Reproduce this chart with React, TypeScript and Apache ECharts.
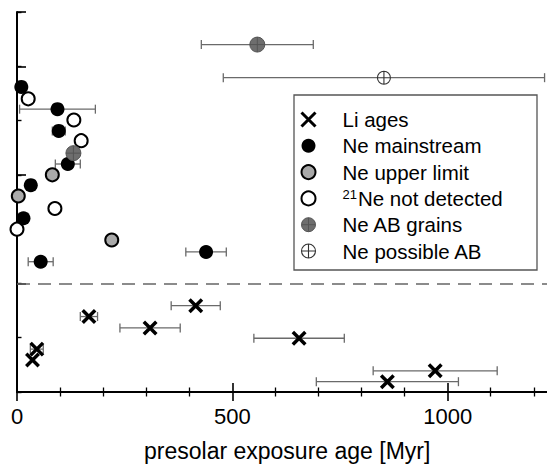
import React, { useEffect, useRef } from "react";
import * as echarts from "echarts";

// ---- data ----
const liX = [167, 309, 415, 46, 36, 655, 971, 860];
const liY = [1.39, 1.18, 1.59, 0.79, 0.59, 0.99, 0.39, 0.19];
const liErr = [20, 70, 57, 15, 0, 105, 144, 165];

const neMainX = [10, 94, 97, 118, 32, 15, 55, 439];
const neMainY = [5.62, 5.21, 4.81, 4.2, 3.81, 3.2, 2.4, 2.58];
const neMainErr = [0, 88, 15, 29, 0, 0, 29, 47];

const neUpperX = [82, 3, 220];
const neUpperY = [4.0, 3.61, 2.8];

const neNotDetX = [26, 132, 149, 88, 0];
const neNotDetY = [5.4, 5.01, 4.63, 3.38, 3.0];

const neABX = [131, 558];
const neABY = [4.4, 6.4];
const neABErr = [0, 130];

const nePossX = [852];
const nePossY = [5.79];
const nePossErr = [373];

const xTickValues = [0, 500, 1000];
const dividerY = 2;

const names = [
  "Li ages",
  "Ne mainstream",
  "Ne upper limit",
  "21Ne not detected",
  "Ne AB grains",
  "Ne possible AB",
];

const FONT = "'Liberation Sans', Arial, Helvetica, sans-serif";
const X_PATH = "path://M0,0L10,10M10,0L0,10";
const CROSS_CIRCLE =
  "path://M0,10A10,10,0,1,1,20,10A10,10,0,1,1,0,10ZM10,0L10,20M0,10L20,10";

const zip = (xs: number[], ys: number[]) => xs.map((x, i) => [x, ys[i]]);
const zip3 = (xs: number[], ys: number[], es: number[]) =>
  xs.map((x, i) => [x, ys[i], es[i]]);

export default function App() {
  const ref = useRef<HTMLDivElement>(null);
  useEffect(() => {
    document.body.style.margin = "0";
    const chart = echarts.init(ref.current!, null, { renderer: "svg" });
    const errData = [
      ...zip3(liX, liY, liErr),
      ...zip3(neMainX, neMainY, neMainErr),
      ...zip3(neABX, neABY, neABErr),
      ...zip3(nePossX, nePossY, nePossErr),
    ];
    const axisLine = { show: true, lineStyle: { color: "#000", width: 2 } };
    const option: any = {
      animation: false,
      grid: {
        left: 17,
        top: 12,
        bottom: 72,
        width: 646,
        containLabel: false,
        outerBoundsMode: "none",
      },
      title: {
        text: "presolar exposure age [Myr]",
        left: 144,
        top: 439,
        padding: 0,
        textStyle: { fontFamily: FONT, fontSize: 23, fontWeight: "normal", color: "#000" },
      },
      xAxis: [
        {
          type: "value",
          position: "bottom",
          min: 0,
          max: 1500,
          interval: 500,
          axisLine,
          axisTick: { show: true, inside: true, length: 9, lineStyle: { color: "#000", width: 1.6 } },
          minorTick: { show: true, splitNumber: 5, length: 4.5, lineStyle: { color: "#000", width: 1.3 } },
          axisLabel: {
            show: true,
            margin: 13,
            fontFamily: FONT,
            fontSize: 22,
            color: "#000",
            formatter: (v: number) => (xTickValues.includes(v) ? String(v) : ""),
          },
          splitLine: { show: false },
        },
        {
          type: "value",
          position: "top",
          min: 0,
          max: 1500,
          interval: 500,
          axisLine,
          axisTick: { show: true, inside: true, length: 9, lineStyle: { color: "#000", width: 1.6 } },
          minorTick: { show: true, splitNumber: 5, length: 4.5, lineStyle: { color: "#000", width: 1.3 } },
          axisLabel: { show: false },
          splitLine: { show: false },
        },
      ],
      yAxis: [
        {
          type: "value",
          position: "left",
          min: 0,
          max: 7,
          interval: 1,
          axisLine,
          axisTick: { show: true, inside: true, length: 4.5, lineStyle: { color: "#000", width: 1.4 } },
          axisLabel: { show: false },
          splitLine: { show: false },
        },
        {
          type: "value",
          position: "left",
          min: 0,
          max: 7,
          interval: 2,
          axisLine: { show: false },
          axisTick: { show: true, inside: true, length: 9, lineStyle: { color: "#000", width: 1.6 } },
          axisLabel: { show: false },
          splitLine: { show: false },
        },
      ],
      legend: {
        data: [
          { name: names[0], itemStyle: { color: "rgba(0,0,0,0)", borderColor: "#000", borderWidth: 3 } },
          { name: names[1], itemStyle: { color: "#000", borderWidth: 0 } },
          { name: names[2], itemStyle: { color: "#a8a8a8", borderColor: "#000", borderWidth: 2 } },
          { name: names[3], itemStyle: { color: "#fff", borderColor: "#000", borderWidth: 2 } },
          { name: names[4], itemStyle: { color: "#6e6e6e", borderColor: "#555", borderWidth: 1 } },
          { name: names[5], itemStyle: { color: "#fff", borderColor: "#333", borderWidth: 1.1 } },
        ],
        orient: "vertical",
        left: 300,
        top: 109,
        padding: 0,
        itemWidth: 58,
        itemHeight: 14,
        itemGap: 5.3,
        symbolKeepAspect: true,
        selectedMode: false,
        formatter: (n: string) =>
          n === "21Ne not detected" ? "{sup|21}{t|Ne not detected}" : "{t|" + n + "}",
        textStyle: {
          fontFamily: FONT,
          fontSize: 20.5,
          color: "#000",
          lineHeight: 20,
          rich: {
            t: { fontFamily: FONT, fontSize: 20.5, color: "#000", lineHeight: 20 },
            sup: { fontFamily: FONT, fontSize: 13, color: "#000", lineHeight: 20, verticalAlign: "top", padding: [0, 1, 0, 0] },
          },
        },
      },
      graphic: [
        {
          type: "rect",
          shape: { x: 294, y: 95, width: 243, height: 175 },
          style: { fill: "none", stroke: "#555", lineWidth: 1.3 },
          silent: true,
        },
      ],
      series: [
        {
          type: "custom",
          name: "error bars",
          z: 1,
          silent: true,
          data: errData,
          encode: { x: 0, y: 1 },
          renderItem: (params: any, api: any) => {
            const x = api.value(0);
            const y = api.value(1);
            const e = api.value(2);
            if (!e) return { type: "group", children: [] };
            const l = api.coord([x - e, y]);
            const r = api.coord([x + e, y]);
            const h = 4.5;
            const style = { stroke: "#6a6a6a", lineWidth: 1.3 };
            return {
              type: "group",
              children: [
                { type: "line", shape: { x1: l[0], y1: l[1], x2: r[0], y2: r[1] }, style },
                { type: "line", shape: { x1: l[0], y1: l[1] - h, x2: l[0], y2: l[1] + h }, style },
                { type: "line", shape: { x1: r[0], y1: r[1] - h, x2: r[0], y2: r[1] + h }, style },
              ],
            };
          },
          markLine: {
            silent: true,
            symbol: ["none", "none"],
            label: { show: false },
            lineStyle: { color: "#666", width: 1.6, type: [13, 8] },
            data: [{ yAxis: dividerY }],
          },
        },
        {
          type: "scatter",
          name: names[0],
          z: 3,
          silent: true,
          data: zip(liX, liY),
          symbol: X_PATH,
          symbolKeepAspect: true,
          symbolSize: 12.5,
          itemStyle: { color: "rgba(0,0,0,0)", borderColor: "#000", borderWidth: 3.5, opacity: 1 },
        },
        {
          type: "scatter",
          name: names[1],
          z: 3,
          silent: true,
          data: zip(neMainX, neMainY),
          symbol: "circle",
          symbolSize: 14,
          itemStyle: { color: "#000", opacity: 1 },
        },
        {
          type: "scatter",
          name: names[2],
          z: 3,
          silent: true,
          data: zip(neUpperX, neUpperY),
          symbol: "circle",
          symbolSize: 13,
          itemStyle: { color: "#aaaaaa", borderColor: "#000", borderWidth: 2, opacity: 1 },
        },
        {
          type: "scatter",
          name: names[3],
          z: 3,
          silent: true,
          data: zip(neNotDetX, neNotDetY),
          symbol: "circle",
          symbolSize: 13,
          itemStyle: { color: "#fff", borderColor: "#000", borderWidth: 2, opacity: 1 },
        },
        {
          type: "scatter",
          name: names[4],
          z: 3,
          silent: true,
          data: zip(neABX, neABY),
          symbol: CROSS_CIRCLE,
          symbolKeepAspect: true,
          symbolSize: 15,
          itemStyle: { color: "#6e6e6e", borderColor: "#555", borderWidth: 1, opacity: 1 },
        },
        {
          type: "scatter",
          name: names[5],
          z: 3,
          silent: true,
          data: zip(nePossX, nePossY),
          symbol: CROSS_CIRCLE,
          symbolKeepAspect: true,
          symbolSize: 13,
          itemStyle: { color: "#fff", borderColor: "#333", borderWidth: 1.1, opacity: 1 },
        },
      ],
    };
    chart.setOption(option);
    return () => chart.dispose();
  }, []);
  return <div ref={ref} style={{ width: 547, height: 464 }} />;
}
